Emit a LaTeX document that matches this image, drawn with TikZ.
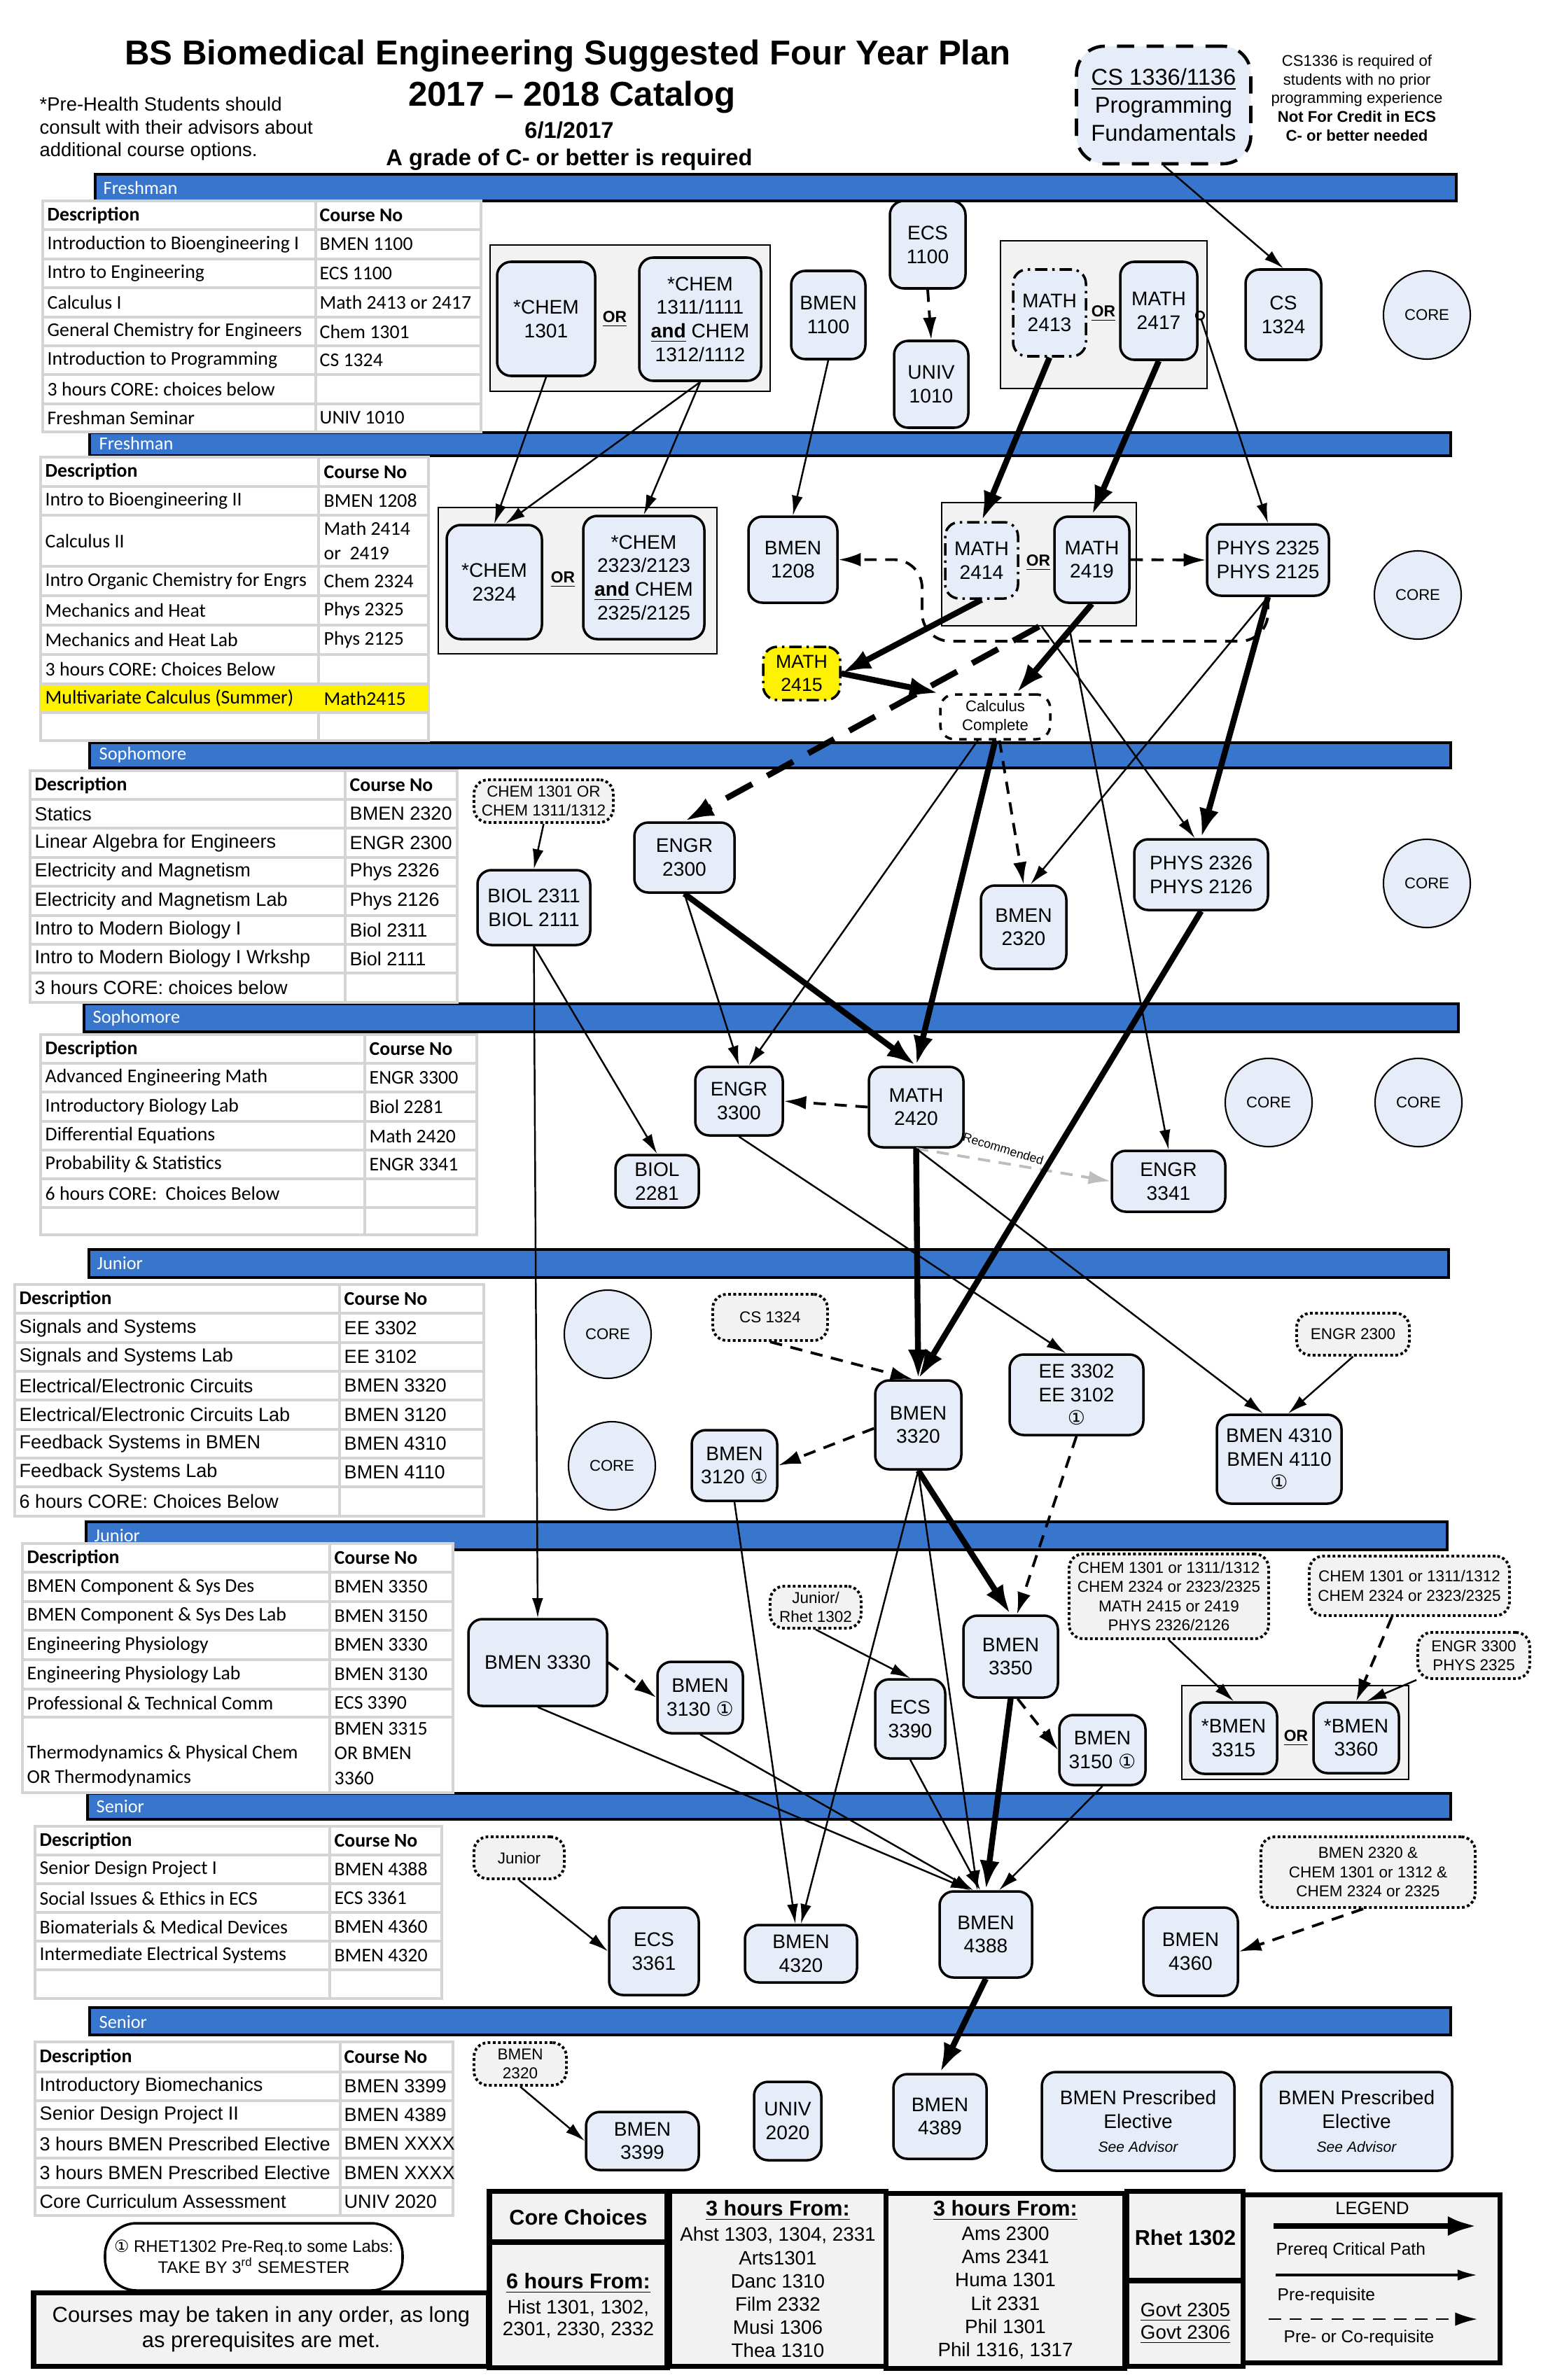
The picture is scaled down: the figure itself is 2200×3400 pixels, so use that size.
\documentclass[tikz,border=0pt]{standalone}
\usepackage{fontspec}
\setmainfont{Liberation Sans}
\newfontfamily\calfont{Carlito}
\newfontfamily\symfont{DejaVu Sans}
\usetikzlibrary{shapes.geometric,arrows.meta,calc}

\definecolor{barblue}{HTML}{3776CC}
\definecolor{nodeblue}{HTML}{E7EDF8}
\definecolor{boxgrey}{HTML}{F2F2F2}
\definecolor{tabgrey}{HTML}{D4D4D4}
\definecolor{recgrey}{HTML}{BDBDBD}

\newcommand\ndfont{\fontsize{8}{9.6}\selectfont}
\newcommand\ntfont{\fontsize{6.4}{7.8}\selectfont}
\newcommand\crfont{\fontsize{6.3}{7.5}\selectfont}
\newcommand\tbfont{\calfont\fontsize{7.9}{9.6}\selectfont}
\newcommand\tbafont{\fontsize{7.7}{9.6}\selectfont}
\newcommand\circone{{\symfont ①}}

\tikzstyle{course}=[rectangle,rounded corners=2mm,draw=black,line width=1pt,fill=nodeblue,align=center,font=\ndfont,inner sep=1pt]
\tikzstyle{mixline}=[dash pattern=on 5pt off 2pt on 1pt off 2pt]
\tikzstyle{core}=[ellipse,draw=black,line width=0.6pt,fill=nodeblue,font=\crfont,inner sep=0pt,minimum width=12.4mm,minimum height=12.6mm]
\tikzstyle{note}=[rectangle,rounded corners=2mm,draw=black,densely dotted,line width=1.1pt,fill=boxgrey,align=center,font=\ntfont,inner sep=1pt]
\tikzstyle{grp}=[rectangle,draw=black,line width=0.6pt,fill=boxgrey,inner sep=0pt]
\tikzstyle{orlbl}=[font=\fontsize{6.5}{7}\selectfont\bfseries,inner sep=1pt]
\tikzstyle{yearbar}=[draw=black,line width=1pt,fill=barblue]
\tikzstyle{barlbl}=[anchor=west,text=white,font=\calfont\fontsize{7.5}{9}\selectfont,inner sep=0pt]
\tikzstyle{tabline}=[draw=tabgrey,line width=1pt]
\tikzstyle{tc}=[anchor=west,inner sep=0pt,font=\tbfont]
\tikzstyle{ta}=[anchor=west,inner sep=0pt,font=\tbafont]
\tikzstyle{pre}=[->,>={Latex[length=8pt,width=4.5pt]},line width=0.7pt]
\tikzstyle{crit}=[->,>={Latex[length=12pt,width=8pt]},line width=2.4pt]
\tikzstyle{critco}=[crit,dash pattern=on 12pt off 7pt]
\tikzstyle{coreq}=[->,>={Latex[length=9pt,width=5.5pt]},line width=1.1pt,dash pattern=on 5pt off 3.5pt]
\tikzstyle{recom}=[coreq,draw=recgrey]
\tikzstyle{keybox}=[draw=black,line width=2pt,fill=boxgrey]

\begin{document}
\begin{tikzpicture}[x=0.1mm,y=-0.1mm]
\useasboundingbox (0,0) rectangle (2200,3400);

\node[font=\fontsize{14}{16}\selectfont\bfseries] (title) at (811,80) {BS Biomedical Engineering Suggested Four Year Plan};
\node[font=\fontsize{14}{16}\selectfont\bfseries] (catalog) at (817,139) {2017 -- 2018 Catalog};
\node[font=\fontsize{9.3}{11}\selectfont\bfseries] (date) at (813,186) {6/1/2017};
\node[font=\fontsize{9.3}{11}\selectfont\bfseries] (grade) at (813,228) {A grade of C- or better is required};
\node[anchor=west,align=left,inner sep=0pt,font=\fontsize{7.8}{9.25}\selectfont] (prehealth) at (56,184) {*Pre-Health Students should\\consult with their advisors about\\additional course options.};
\node[align=center,font=\fontsize{6.3}{7.6}\selectfont] (csinfo) at (1938,140) {CS1336 is required of\\students with no prior\\programming experience\\\textbf{Not For Credit in ECS}\\\textbf{C- or better needed}};
\node[course,dash pattern=on 7pt off 5pt,line width=1.3pt,rounded corners=4mm,font=\fontsize{9.3}{11.4}\selectfont,minimum width=24.9mm,minimum height=16.8mm] (cs1336) at (1662,150) {\underline{CS 1336/1136}\\Programming\\Fundamentals};

\draw[yearbar] (136,249) rectangle (2080,287);
\node[barlbl] (yr1) at (147,268) {Freshman};
\draw[yearbar] (128,618) rectangle (2072,651);
\node[barlbl] (yr2) at (141,633) {Freshman};
\draw[yearbar] (128,1061) rectangle (2072,1097);
\node[barlbl] (yr3) at (141,1078) {Sophomore};
\draw[yearbar] (120,1434) rectangle (2083,1474);
\node[barlbl] (yr4) at (132,1454) {Sophomore};
\draw[yearbar] (127,1785) rectangle (2069,1825);
\node[barlbl] (yr5) at (138,1805) {Junior};
\draw[yearbar] (123,2174) rectangle (2067,2214);
\node[barlbl] (yr6) at (134,2194) {Junior};
\draw[yearbar] (125,2562) rectangle (2072,2599);
\node[barlbl] (yr7) at (137,2580) {Senior};
\draw[yearbar] (128,2868) rectangle (2072,2907);
\node[barlbl] (yr8) at (141,2888) {Senior};

\draw[tabline,fill=white] (61,287) rectangle (687,617);
\draw[tabline] (451,287) -- (451,617) (61,328) -- (687,328) (61,370) -- (687,370) (61,411) -- (687,411) (61,453) -- (687,453) (61,494) -- (687,494) (61,535) -- (687,535) (61,577) -- (687,577);
\node[tc] (t1h1) at (67,307.5) {\textbf{Description}};
\node[tc] (t1h2) at (456,307.5) {\textbf{Course No}};
\node[tc] (t1a1) at (67,349) {Introduction to Bioengineering I};
\node[tc] (t1b1) at (456,349) {BMEN 1100};
\node[tc] (t1a2) at (67,390.5) {Intro to Engineering};
\node[tc] (t1b2) at (456,390.5) {ECS 1100};
\node[tc] (t1a3) at (67,432) {Calculus I};
\node[tc] (t1b3) at (456,432) {Math 2413 or 2417};
\node[tc] (t1a4) at (67,473.5) {General Chemistry for Engineers};
\node[tc] (t1b4) at (456,473.5) {Chem 1301};
\node[tc] (t1a5) at (67,514.5) {Introduction to Programming};
\node[tc] (t1b5) at (456,514.5) {CS 1324};
\node[tc] (t1a6) at (67,556) {3 hours CORE: choices below};
\node[tc] (t1a7) at (67,597) {Freshman Seminar};
\node[tc] (t1b7) at (456,597) {UNIV 1010};

\draw[tabline,fill=white] (58,653) rectangle (612,1058);
\fill[yellow] (58,977) rectangle (612,1018);
\draw[tabline] (455,653) -- (455,977) (455,1018) -- (455,1058) (58,695) -- (612,695) (58,736) -- (612,736) (58,809) -- (612,809) (58,851) -- (612,851) (58,893) -- (612,893) (58,935) -- (612,935) (58,977) -- (612,977) (58,1018) -- (612,1018);
\node[tc] (t2h1) at (64,674) {\textbf{Description}};
\node[tc] (t2h2) at (462,674) {\textbf{Course No}};
\node[tc] (t2a1) at (64,715.5) {Intro to Bioengineering II};
\node[tc] (t2b1) at (462,715.5) {BMEN 1208};
\node[tc] (t2a2) at (64,772.5) {Calculus II};
\node[tc,align=left,font=\calfont\fontsize{7.9}{9.9}\selectfont] (t2b2) at (462,772.5) {Math 2414\\or\ \ 2419};
\node[tc] (t2a3) at (64,830) {Intro Organic Chemistry for Engrs};
\node[tc] (t2b3) at (462,830) {Chem 2324};
\node[tc] (t2a4) at (64,872) {Mechanics and Heat};
\node[tc] (t2b4) at (462,872) {Phys 2325};
\node[tc] (t2a5) at (64,914) {Mechanics and Heat Lab};
\node[tc] (t2b5) at (462,914) {Phys 2125};
\node[tc] (t2a6) at (64,956) {3 hours CORE: Choices Below};
\node[tc] (t2a7) at (64,997.5) {Multivariate Calculus (Summer)};
\node[tc] (t2b7) at (462,997.5) {Math2415};

\draw[tabline,fill=white] (43,1101) rectangle (653,1432);
\draw[tabline] (493,1101) -- (493,1432) (43,1142) -- (653,1142) (43,1183) -- (653,1183) (43,1225) -- (653,1225) (43,1266) -- (653,1266) (43,1308) -- (653,1308) (43,1349) -- (653,1349) (43,1390) -- (653,1390);
\node[tc] (t3h1) at (49,1121.5) {\textbf{Description}};
\node[tc] (t3h2) at (499,1121.5) {\textbf{Course No}};
\node[ta] (t3a1) at (49,1162.5) {Statics};
\node[ta] (t3b1) at (499,1162.5) {BMEN 2320};
\node[ta] (t3a2) at (49,1204) {Linear Algebra for Engineers};
\node[ta] (t3b2) at (499,1204) {ENGR 2300};
\node[ta] (t3a3) at (49,1245.5) {Electricity and Magnetism};
\node[ta] (t3b3) at (499,1245.5) {Phys 2326};
\node[ta] (t3a4) at (49,1287) {Electricity and Magnetism Lab};
\node[ta] (t3b4) at (499,1287) {Phys 2126};
\node[ta] (t3a5) at (49,1328.5) {Intro to Modern Biology I};
\node[ta] (t3b5) at (499,1328.5) {Biol 2311};
\node[ta] (t3a6) at (49,1369.5) {Intro to Modern Biology I Wrkshp};
\node[ta] (t3b6) at (499,1369.5) {Biol 2111};
\node[ta] (t3a7) at (49,1411) {3 hours CORE: choices below};

\draw[tabline,fill=white] (58,1478) rectangle (681,1764);
\draw[tabline] (521,1478) -- (521,1764) (58,1519) -- (681,1519) (58,1560) -- (681,1560) (58,1602) -- (681,1602) (58,1643) -- (681,1643) (58,1684) -- (681,1684) (58,1725) -- (681,1725);
\node[tc] (t4h1) at (64,1498.5) {\textbf{Description}};
\node[tc] (t4h2) at (527,1498.5) {\textbf{Course No}};
\node[tc] (t4a1) at (64,1539.5) {Advanced Engineering Math};
\node[tc] (t4b1) at (527,1539.5) {ENGR 3300};
\node[tc] (t4a2) at (64,1581) {Introductory Biology Lab};
\node[tc] (t4b2) at (527,1581) {Biol 2281};
\node[tc] (t4a3) at (64,1622.5) {Differential Equations};
\node[tc] (t4b3) at (527,1622.5) {Math 2420};
\node[tc] (t4a4) at (64,1663.5) {Probability \& Statistics};
\node[tc] (t4b4) at (527,1663.5) {ENGR 3341};
\node[tc] (t4a5) at (64,1704.5) {6 hours CORE:\ \ Choices Below};

\draw[tabline,fill=white] (21,1835) rectangle (691,2166);
\draw[tabline] (485,1835) -- (485,2166) (21,1876) -- (691,1876) (21,1918) -- (691,1918) (21,1959) -- (691,1959) (21,2000) -- (691,2000) (21,2042) -- (691,2042) (21,2083) -- (691,2083) (21,2124) -- (691,2124);
\node[tc] (t5h1) at (27,1855.5) {\textbf{Description}};
\node[tc] (t5h2) at (491,1855.5) {\textbf{Course No}};
\node[ta] (t5a1) at (27,1897) {Signals and Systems};
\node[ta] (t5b1) at (491,1897) {EE 3302};
\node[ta] (t5a2) at (27,1938.5) {Signals and Systems Lab};
\node[ta] (t5b2) at (491,1938.5) {EE 3102};
\node[ta] (t5a3) at (27,1979.5) {Electrical/Electronic Circuits};
\node[ta] (t5b3) at (491,1979.5) {BMEN 3320};
\node[ta] (t5a4) at (27,2021) {Electrical/Electronic Circuits Lab};
\node[ta] (t5b4) at (491,2021) {BMEN 3120};
\node[ta] (t5a5) at (27,2062.5) {Feedback Systems in BMEN};
\node[ta] (t5b5) at (491,2062.5) {BMEN 4310};
\node[ta] (t5a6) at (27,2103.5) {Feedback Systems Lab};
\node[ta] (t5b6) at (491,2103.5) {BMEN 4110};
\node[ta] (t5a7) at (27,2145) {6 hours CORE: Choices Below};

\draw[tabline,fill=white] (32,2205) rectangle (647,2561);
\draw[tabline] (471,2205) -- (471,2561) (32,2246) -- (647,2246) (32,2288) -- (647,2288) (32,2329) -- (647,2329) (32,2371) -- (647,2371) (32,2413) -- (647,2413) (32,2453) -- (647,2453);
\node[tc] (t6h1) at (38,2225.5) {\textbf{Description}};
\node[tc] (t6h2) at (477,2225.5) {\textbf{Course No}};
\node[tc] (t6a1) at (38,2267) {BMEN Component \& Sys Des};
\node[tc] (t6b1) at (477,2267) {BMEN 3350};
\node[tc] (t6a2) at (38,2308.5) {BMEN Component \& Sys Des Lab};
\node[tc] (t6b2) at (477,2308.5) {BMEN 3150};
\node[tc] (t6a3) at (38,2350) {Engineering Physiology};
\node[tc] (t6b3) at (477,2350) {BMEN 3330};
\node[tc] (t6a4) at (38,2392) {Engineering Physiology Lab};
\node[tc] (t6b4) at (477,2392) {BMEN 3130};
\node[tc] (t6a5) at (38,2433) {Professional \& Technical Comm};
\node[tc] (t6b5) at (477,2433) {ECS 3390};
\node[tc,align=left,font=\calfont\fontsize{7.9}{10}\selectfont] (t6a6) at (38,2522.5) {Thermodynamics \& Physical Chem\\OR Thermodynamics};
\node[tc,align=left,font=\calfont\fontsize{7.9}{10}\selectfont] (t6b6) at (477,2505) {BMEN 3315\\OR BMEN\\3360};

\draw[tabline,fill=white] (50,2609) rectangle (631,2855);
\draw[tabline] (471,2609) -- (471,2855) (50,2650) -- (631,2650) (50,2691) -- (631,2691) (50,2732) -- (631,2732) (50,2773) -- (631,2773) (50,2814) -- (631,2814);
\node[tc] (t7h1) at (56,2629.5) {\textbf{Description}};
\node[tc] (t7h2) at (477,2629.5) {\textbf{Course No}};
\node[tc] (t7a1) at (56,2670.5) {Senior Design Project I};
\node[tc] (t7b1) at (477,2670.5) {BMEN 4388};
\node[tc] (t7a2) at (56,2711.5) {Social Issues \& Ethics in ECS};
\node[tc] (t7b2) at (477,2711.5) {ECS 3361};
\node[tc] (t7a3) at (56,2752.5) {Biomaterials \& Medical Devices};
\node[tc] (t7b3) at (477,2752.5) {BMEN 4360};
\node[tc] (t7a4) at (56,2793.5) {Intermediate Electrical Systems};
\node[tc] (t7b4) at (477,2793.5) {BMEN 4320};

\draw[tabline,fill=white] (50,2917) rectangle (647,3165);
\draw[tabline] (486,2917) -- (486,3165) (50,2960) -- (647,2960) (50,3001) -- (647,3001) (50,3042) -- (647,3042) (50,3083) -- (647,3083) (50,3125) -- (647,3125);
\node[tc] (t8h1) at (56,2938.5) {\textbf{Description}};
\node[tc] (t8h2) at (491,2938.5) {\textbf{Course No}};
\node[ta] (t8a1) at (56,2980.5) {Introductory Biomechanics};
\node[ta] (t8b1) at (491,2980.5) {BMEN 3399};
\node[ta] (t8a2) at (56,3021.5) {Senior Design Project II};
\node[ta] (t8b2) at (491,3021.5) {BMEN 4389};
\node[ta] (t8a3) at (56,3062.5) {3 hours BMEN Prescribed Elective};
\node[ta] (t8b3) at (491,3062.5) {BMEN XXXX};
\node[ta] (t8a4) at (56,3104) {3 hours BMEN Prescribed Elective};
\node[ta] (t8b4) at (491,3104) {BMEN XXXX};
\node[ta] (t8a5) at (56,3145) {Core Curriculum Assessment};
\node[ta] (t8b5) at (491,3145) {UNIV 2020};

\node[grp,minimum width=40mm,minimum height=20.9mm] (grp1) at (900,454.5) {};
\node[grp,minimum width=29.5mm,minimum height=21.1mm] (grp2) at (1576.5,449.5) {};
\node[grp,minimum width=39.8mm,minimum height=20.9mm] (grp3) at (825,829.5) {};
\node[grp,minimum width=27.8mm,minimum height=17.6mm] (grp4) at (1484,806) {};
\node[grp,minimum width=32.4mm,minimum height=13.4mm] (grp5) at (1850,2475) {};

\node[course,minimum width=14mm,minimum height=16.3mm] (chem1301) at (780,455.5) {*CHEM\\1301};
\node[orlbl] (or1) at (878,456) {\underline{OR}};
\node[course,minimum width=17.4mm,minimum height=17.6mm] (chem1311) at (1000,456) {*CHEM\\1311/1111\\\underline{\textbf{and}} CHEM\\1312/1112};
\node[course,minimum width=10.6mm,minimum height=12.6mm] (bmen1100) at (1183,450) {BMEN\\1100};
\node[course,minimum width=10.8mm,minimum height=12.5mm] (ecs1100) at (1325,349.5) {ECS\\1100};
\node[course,minimum width=10.6mm,minimum height=12.4mm] (univ1010) at (1330,549) {UNIV\\1010};
\node[course,mixline,minimum width=10.4mm,minimum height=12.4mm] (math2413) at (1499,447) {MATH\\2413};
\node[orlbl] (or2) at (1576,448) {\underline{OR}};
\node[course,minimum width=11mm,minimum height=14mm] (math2417) at (1655,444) {MATH\\2417};
\node[course,minimum width=10.8mm,minimum height=12.9mm] (cs1324) at (1833,449.5) {CS\\1324};
\node[core] (core1) at (2038,450) {CORE};

\node[course,minimum width=13.6mm,minimum height=16.3mm] (chem2324) at (706,831.5) {*CHEM\\2324};
\node[orlbl] (or3) at (804,828) {\underline{OR}};
\node[course,minimum width=17.3mm,minimum height=17.6mm] (chem2323) at (919.5,825) {*CHEM\\2323/2123\\\underline{\textbf{and}} CHEM\\2325/2125};
\node[course,minimum width=12.7mm,minimum height=12.3mm] (bmen1208) at (1132.5,799.5) {BMEN\\1208};
\node[course,mixline,minimum width=10.4mm,minimum height=10.9mm] (math2414) at (1402,800.5) {MATH\\2414};
\node[orlbl] (or4) at (1483,804) {\underline{OR}};
\node[course,minimum width=10.7mm,minimum height=12.3mm] (math2419) at (1559.5,799.5) {MATH\\2419};
\node[course,minimum width=17.4mm,minimum height=10.2mm] (phys2325) at (1811,800) {PHYS 2325\\PHYS 2125};
\node[core] (core2) at (2025,850) {CORE};
\node[course,mixline,fill=yellow,font=\fontsize{7.6}{9.4}\selectfont,minimum width=11mm,minimum height=7.6mm] (math2415) at (1145,962) {MATH\\2415};
\node[course,dashed,fill=white,font=\fontsize{6.3}{7.6}\selectfont,minimum width=15.7mm,minimum height=6.4mm] (calc) at (1421.5,1024) {Calculus\\Complete};

\node[note,minimum width=19.9mm,minimum height=6.1mm] (chemnote) at (776.5,1144.5) {CHEM 1301 OR\\CHEM 1311/1312};
\node[course,minimum width=14.3mm,minimum height=10mm] (engr2300) at (977.5,1225) {ENGR\\2300};
\node[course,minimum width=16.1mm,minimum height=10.7mm] (biol2311) at (762.5,1296.5) {BIOL 2311\\BIOL 2111};
\node[course,minimum width=12.2mm,minimum height=11.9mm] (bmen2320) at (1462,1324.5) {BMEN\\2320};
\node[course,minimum width=19.1mm,minimum height=10.1mm] (phys2326) at (1715.5,1249.5) {PHYS 2326\\PHYS 2126};
\node[core] (core3) at (2038,1262) {CORE};
\node[course,minimum width=12.5mm,minimum height=9.8mm] (engr3300) at (1055.5,1573) {ENGR\\3300};
\node[course,minimum width=13.5mm,minimum height=11.5mm] (math2420) at (1308.5,1581.5) {MATH\\2420};
\node[course,minimum width=11.9mm,minimum height=7.5mm] (biol2281) at (938.5,1687.5) {BIOL\\2281};
\node[course,minimum width=16.2mm,minimum height=8.7mm] (engr3341) at (1669,1687.5) {ENGR\\3341};
\node[core] (core4) at (1812,1575) {CORE};
\node[core] (core5) at (2026,1575) {CORE};

\node[core] (core6) at (868,1906) {CORE};
\node[core] (core7) at (874,2094) {CORE};
\node[note,minimum width=16.4mm,minimum height=6.6mm] (csnote) at (1100,1882) {CS 1324};
\node[course,minimum width=12.3mm,minimum height=12.7mm] (bmen3320) at (1311.5,2035.5) {BMEN\\3320};
\node[course,minimum width=12.2mm,minimum height=10.1mm] (bmen3120) at (1049,2093.5) {BMEN\\3120 \circone};
\node[course,minimum width=19.1mm,minimum height=11.5mm] (ee3302) at (1537.5,1992.5) {EE 3302\\EE 3102\\\circone};
\node[note,minimum width=16.1mm,minimum height=6mm] (engrnote) at (1932.5,1906) {ENGR 2300};
\node[course,minimum width=17.8mm,minimum height=12.7mm] (bmen4310) at (1827,2084.5) {BMEN 4310\\BMEN 4110\\\circone};

\node[course,minimum width=19.8mm,minimum height=12.4mm] (bmen3330) at (768,2375) {BMEN 3330};
\node[course,minimum width=12.2mm,minimum height=10.2mm] (bmen3130) at (1000,2425) {BMEN\\3130 \circone};
\node[note,minimum width=13mm,minimum height=6mm] (rhetnote) at (1165,2296) {Junior/\\Rhet 1302};
\node[course,minimum width=10mm,minimum height=11.3mm] (ecs3390) at (1300,2455.5) {ECS\\3390};
\node[course,minimum width=13.5mm,minimum height=11.7mm] (bmen3350) at (1443.5,2366.5) {BMEN\\3350};
\node[course,minimum width=12.3mm,minimum height=10mm] (bmen3150) at (1574.5,2500) {BMEN\\3150 \circone};
\node[note,minimum width=28.5mm,minimum height=12.1mm] (notea) at (1669.5,2280.5) {CHEM 1301 or 1311/1312\\CHEM 2324 or 2323/2325\\MATH 2415 or 2419\\PHYS 2326/2126};
\node[note,minimum width=28.6mm,minimum height=8.5mm] (noteb) at (2013,2265.5) {CHEM 1301 or 1311/1312\\CHEM 2324 or 2323/2325};
\node[note,minimum width=16mm,minimum height=6.6mm] (notec) at (2105,2365) {ENGR 3300\\PHYS 2325};
\node[course,minimum width=12.4mm,minimum height=10.2mm] (bmen3315) at (1762,2483) {*BMEN\\3315};
\node[orlbl] (or5) at (1851,2483) {\underline{OR}};
\node[course,minimum width=12.2mm,minimum height=10.1mm] (bmen3360) at (1937,2482.5) {*BMEN\\3360};

\node[note,minimum width=12.9mm,minimum height=6mm] (juniornote) at (741.5,2654) {Junior};
\node[course,minimum width=12.8mm,minimum height=12.5mm] (ecs3361) at (934,2787.5) {ECS\\3361};
\node[course,minimum width=16mm,minimum height=8.2mm] (bmen4320) at (1144,2791) {BMEN\\4320};
\node[course,minimum width=13.2mm,minimum height=12.3mm] (bmen4388) at (1408,2763.5) {BMEN\\4388};
\node[course,minimum width=13.5mm,minimum height=12.6mm] (bmen4360) at (1700.5,2788) {BMEN\\4360};
\node[note,minimum width=30.6mm,minimum height=10.1mm] (bmennote) at (1954,2674.5) {BMEN 2320 \&\\CHEM 1301 or 1312 \&\\CHEM 2324 or 2325};
\node[note,minimum width=13.2mm,minimum height=6.1mm] (bmen2320note) at (743,2948.5) {BMEN\\2320};
\node[course,minimum width=16.1mm,minimum height=8.3mm] (bmen3399) at (917.5,3058.5) {BMEN\\3399};
\node[course,minimum width=9.6mm,minimum height=11.2mm] (univ2020) at (1125,3030) {UNIV\\2020};
\node[course,minimum width=13.3mm,minimum height=12.1mm] (bmen4389) at (1342.5,3023.5) {BMEN\\4389};
\node[course,minimum width=27.5mm,minimum height=14.1mm] (elect1) at (1625.5,3030.5) {BMEN Prescribed\\Elective\\{\fontsize{6}{8}\selectfont\itshape See Advisor}};
\node[course,minimum width=27.3mm,minimum height=14.1mm] (elect2) at (1937.5,3030.5) {BMEN Prescribed\\Elective\\{\fontsize{6}{8}\selectfont\itshape See Advisor}};

\coordinate (bend) at (1317,916);
\draw[pre] (cs1336.south) -- (cs1324.north);
\draw[coreq] (ecs1100.south) -- (univ1010.north);
\draw[pre] (chem1301.south) -- (chem2324.north);
\draw[pre] (chem1311.south) -- ($(chem2324.north)+(16,0)$);
\draw[pre] (chem1311.south) -- (chem2323.north);
\draw[pre] (bmen1100.south) -- (bmen1208.north);
\draw[crit] (math2413.south) -- (math2414.north);
\draw[crit] (math2417.south) -- (math2419.north);
\draw[pre,{Circle[open,length=4pt]}->] (math2417.east) -- (phys2325.north);
\draw[coreq,rounded corners=4mm] (phys2325.south) |- (bend) |- (bmen1208.east);
\draw[coreq] (math2419.east) -- (phys2325.west);
\draw[crit] (math2414.south) -- (math2415.east);
\draw[crit] (math2415.east) -- (calc.north west);
\draw[crit] (math2419.south) -- ($(calc.north)+(30,0)$);
\draw[critco] (grp4.south) -- (engr2300.north);
\draw[crit] (calc.south) -- (math2420.north);
\draw[coreq] ($(calc.south)+(6,0)$) -- (bmen2320.north);
\draw[pre] ($(calc.south)+(-25,0)$) -- ($(engr3300.north)+(14,0)$);
\draw[crit] (phys2325.south) -- (phys2326.north);
\draw[pre] (phys2325.south) -- ($(bmen2320.north)+(10,0)$);
\draw[pre] ($(grp4.south)+(4,0)$) -- ($(phys2326.north)+(-9,0)$);
\draw[pre] ($(grp4.south)+(43,0)$) -- (engr3341.north);
\draw[crit] (engr2300.south) -- (math2420.north);
\draw[pre] (engr2300.south) -- (engr3300.north);
\draw[pre] (chemnote.south) -- (biol2311.north);
\draw[pre] (biol2311.south) -- (biol2281.north);
\draw[pre] (biol2311.south) -- (bmen3330.north);
\draw[coreq] (math2420.west) -- (engr3300.east);
\draw[recom] (math2420.south) -- (engr3341.west);
\node[rotate=-17,inner sep=0pt,font=\fontsize{5}{6}\selectfont] (reclbl) at (1433,1641) {Recommended};
\draw[crit] (phys2326.south) -- (bmen3320.north);
\draw[crit] (math2420.south) -- (bmen3320.north);
\draw[pre] (math2420.south) -- ($(bmen4310.north)+(-23,0)$);
\draw[pre] (engr3300.south) -- ($(ee3302.north)+(-15,0)$);
\draw[coreq] (csnote.south) -- ($(bmen3320.north)+(-8,0)$);
\draw[pre] (engrnote.south) -- ($(bmen4310.north)+(13,0)$);
\draw[coreq] ($(bmen3320.west)+(0,5)$) -- (bmen3120.east);
\draw[crit] (bmen3320.south) -- (bmen3350.north);
\draw[coreq] (ee3302.south) -- ($(bmen3350.north)+(9,0)$);
\draw[pre] (bmen3320.south) -- (bmen4320.north);
\draw[pre] (bmen3320.south) -- ($(bmen4388.north)+(-12,0)$);
\draw[pre] (bmen3120.south) -- ($(bmen4320.north)+(-8,0)$);
\draw[coreq] (bmen3330.east) -- (bmen3130.west);
\draw[pre] (bmen3330.south) -- ($(bmen4388.north)+(-22,0)$);
\draw[pre] (bmen3130.south) -- ($(bmen4388.north)+(-18,0)$);
\draw[pre] (rhetnote.south) -- (ecs3390.north);
\draw[pre] (ecs3390.south) -- ($(bmen4388.north)+(-8,0)$);
\draw[crit] (bmen3350.south) -- (bmen4388.north);
\draw[coreq] ($(bmen3350.south)+(10,0)$) -- (bmen3150.west);
\draw[pre] (bmen3150.south) -- ($(bmen4388.north)+(19,0)$);
\draw[pre] (notea.south) -- (bmen3315.north);
\draw[coreq] ($(noteb.south)+(-25,0)$) -- (bmen3360.north);
\draw[pre] (notec.south west) -- ($(bmen3360.north)+(15,0)$);
\draw[pre] (juniornote.south) -- (ecs3361.west);
\draw[coreq] ($(bmennote.south)+(-7,0)$) -- (bmen4360.east);
\draw[crit] (bmen4388.south) -- (bmen4389.north);
\draw[pre] (bmen2320note.south) -- (bmen3399.west);

\node[draw,line width=1pt,rounded corners=4.5mm,fill=white,minimum width=42.5mm,minimum height=9.6mm,align=center,font=\fontsize{6.8}{8.5}\selectfont] (footnote) at (362.5,3224) {\circone{} RHET1302 Pre-Req.to some Labs:\\TAKE BY 3\textsuperscript{rd} SEMESTER};
\node[keybox,minimum width=65mm,minimum height=10.5mm,align=center,font=\fontsize{8.8}{10}\selectfont] (anyorder) at (373,3327.5) {Courses may be taken in any order, as long\\as prerequisites are met.};

\draw[keybox] (699,3130) rectangle (953,3382);
\draw[line width=2.5pt] (699,3203) -- (953,3203);
\node[font=\fontsize{8.7}{10}\selectfont\bfseries] (corehd) at (826,3168) {Core Choices};
\node[font=\fontsize{8.7}{10}\selectfont] (sixhrs) at (826,3262) {\underline{\textbf{6 hours From:}}};
\node[align=center,font=\fontsize{7.9}{8.8}\selectfont] (histlist) at (826,3312.5) {Hist 1301, 1302,\\2301, 2330, 2332};
\draw[keybox] (956,3130) rectangle (1265,3380);
\node[font=\fontsize{8.7}{10}\selectfont] (fromA) at (1111,3158) {\underline{\textbf{3 hours From:}}};
\node[align=center,font=\fontsize{7.9}{9.45}\selectfont] (listA) at (1111,3275) {Ahst 1303, 1304, 2331\\Arts1301\\Danc 1310\\Film 2332\\Musi 1306\\Thea 1310};
\draw[keybox] (1265,3133) rectangle (1606,3383);
\node[font=\fontsize{8.7}{10}\selectfont] (fromB) at (1436,3158) {\underline{\textbf{3 hours From:}}};
\node[align=center,font=\fontsize{7.9}{9.45}\selectfont] (listB) at (1436,3275.5) {Ams 2300\\Ams 2341\\Huma 1301\\Lit 2331\\Phil 1301\\Phil 1316, 1317};
\draw[keybox] (1609,3130) rectangle (1775,3380);
\draw[line width=2.5pt] (1609,3258) -- (1775,3258);
\node[font=\fontsize{8.7}{10}\selectfont\bfseries] (rhet) at (1693,3197) {Rhet 1302};
\node[align=center,font=\fontsize{7.9}{9.1}\selectfont] (govt) at (1693,3319) {\underline{Govt 2305}\\\underline{Govt 2306}};
\draw[keybox] (1775,3135) rectangle (2142,3375);
\node[font=\fontsize{7.3}{9}\selectfont] (legendhd) at (1960,3155) {LEGEND};
\coordinate (k1a) at (1819,3180);
\coordinate (k1b) at (2110,3180);
\coordinate (k2a) at (1822,3250);
\coordinate (k2b) at (2110,3250);
\coordinate (k3a) at (1812,3313);
\coordinate (k3b) at (2110,3313);
\draw[crit] (k1a) -- (k1b);
\draw[pre,line width=1pt] (k2a) -- (k2b);
\draw[coreq,line width=0.8pt] (k3a) -- (k3b);
\node[anchor=west,inner sep=0pt,font=\fontsize{7}{8}\selectfont] (lgcrit) at (1822,3215) {Prereq Critical Path};
\node[anchor=west,inner sep=0pt,font=\fontsize{7}{8}\selectfont] (lgpre) at (1824,3280) {Pre-requisite};
\node[anchor=west,inner sep=0pt,font=\fontsize{7}{8}\selectfont] (lgco) at (1833,3340) {Pre- or Co-requisite};
\end{tikzpicture}
\end{document}
